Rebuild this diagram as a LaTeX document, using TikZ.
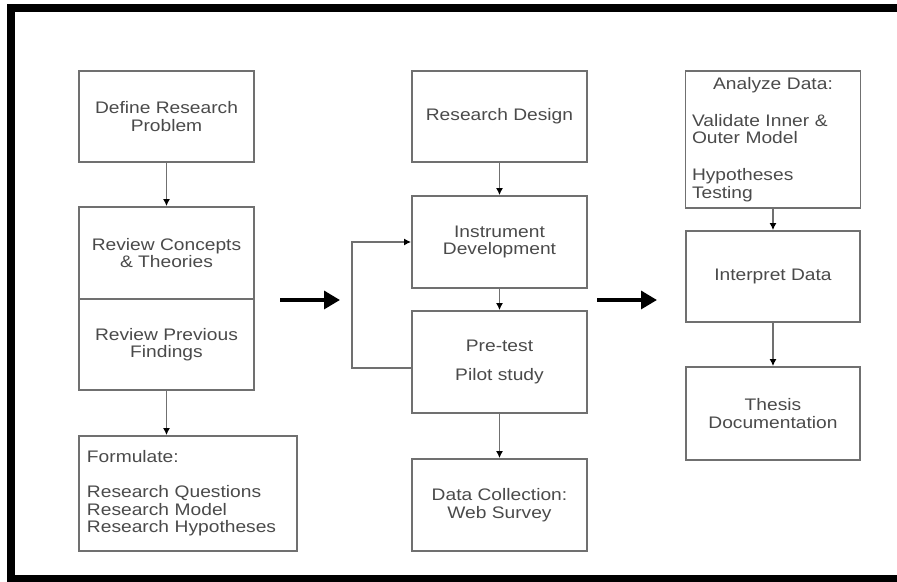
\documentclass[tikz,border=0pt]{standalone}
\usepackage{fontspec}
\setmainfont{Liberation Sans}[FakeStretch=1.15]
\usetikzlibrary{positioning, arrows.meta}
\definecolor{linegray}{HTML}{707070}
\definecolor{textgray}{HTML}{4A4A4A}

\begin{document}
\begin{tikzpicture}[
      box/.style={draw=linegray, line width=1pt, text=textgray,
          font=\fontsize{9.5}{10}\selectfont, inner sep=2pt,
          minimum width=3.5cm, minimum height=1.82cm, align=center},
      conn/.style={draw=linegray, line width=1pt,
          -{Latex[length=4pt, width=4pt, color=black]}},
      bigarr/.style={line width=2.8pt, -{Triangle[length=9pt, width=10pt]}},
    ]
    \useasboundingbox (0,0) rectangle (17.94,-11.64);

    % ---- Frame (no right edge) ----
    \fill[black] (0.14,-0.08) rectangle (17.94,-0.24);
    \fill[black] (0.14,-0.08) rectangle (0.30,-11.64);
    \fill[black] (0.14,-11.50) rectangle (17.94,-11.64);

    % ---- Left column ----
    \node[box] (Def) at (3.33,-2.33) {Define Research\\Problem};
    \node[box, minimum height=1.84cm] (RevC) at (3.33,-5.06) {Review Concepts\\\& Theories};
    \node[box] (RevP) at (3.33,-6.89) {Review Previous\\Findings};
    \node[box, text width=4.04cm, inner xsep=0.16cm, minimum height=2.3cm, align=left]
    (Form) at (3.76,-9.87)
    {Formulate:\\[10pt]Research Questions\\Research Model\\Research Hypotheses};

    % ---- Middle column ----
    \node[box] (RD) at (9.99,-2.33) {Research Design};
    \node[box, minimum height=1.84cm] (ID) at (9.99,-4.84) {Instrument\\Development};
    \node[box, minimum height=2.04cm] (PT) at (9.99,-7.24) {Pre-test\\[7pt]Pilot study};
    \node[box, minimum height=1.84cm] (DC) at (9.99,-10.1) {Data Collection:\\Web Survey};

    % ---- Right column ----
    \node[box, text width=3.24cm, inner xsep=0.12cm, minimum height=2.74cm, align=left]
    (AD) at (15.46,-2.79)
    {{\centering Analyze Data:\par}\vspace{11pt}\noindent
      Validate Inner \&\\Outer Model\\[11pt]Hypotheses\\Testing};
    \node[box, minimum width=3.48cm] (IP) at (15.46,-5.53) {Interpret Data};
    \node[box, minimum width=3.48cm, minimum height=1.86cm] (TD) at (15.46,-8.27) {Thesis\\Documentation};

    % ---- Connectors inside columns ----
    \draw[conn] (Def) -- (RevC);
    \draw[conn] (RevP.south) -- (RevP.south |- Form.north);
    \foreach \a/\b in {RD/ID, ID/PT, PT/DC}
    \draw[conn] (\a) -- (\b);
    \draw[conn] (AD) -- (IP);
    \draw[conn] (IP) -- (TD);
    % loop back from pilot study to instrument
    \draw[conn] ([yshift=-0.12cm]PT.west) -- ++(-1.18,0) |- (ID.west);

    % ---- Big arrows between columns ----
    \coordinate (B1) at (5.60,-6.0);
    \coordinate (E1) at (6.80,-6.0);
    \coordinate (B2) at (11.94,-6.0);
    \coordinate (E2) at (13.14,-6.0);
    \draw[bigarr] (B1) -- (E1);
    \draw[bigarr] (B2) -- (E2);

  \end{tikzpicture}
\end{document}
